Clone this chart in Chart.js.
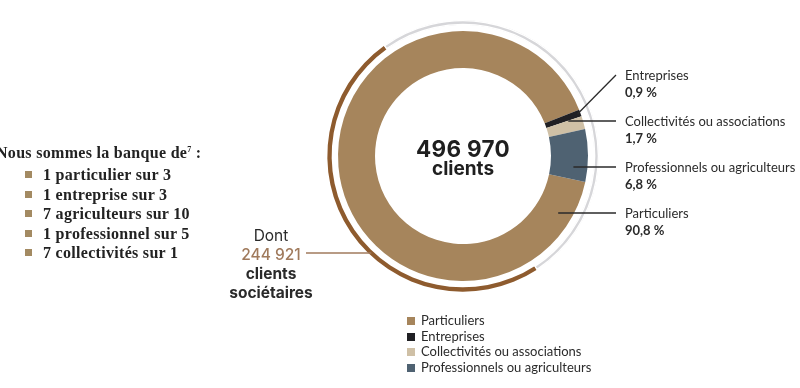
<!DOCTYPE html>
<html lang="fr">
<head>
<meta charset="utf-8">
<script src="https://cdn.jsdelivr.net/npm/chart.js@4.4.1/dist/chart.umd.min.js"></script>
<style>
    html, body { margin: 0; padding: 0; background: #fff; }
    #wrap { position: relative; width: 800px; height: 388px; overflow: hidden; font-family: Lato, sans-serif; color: #2b2b2b; }
    #chart { position: absolute; left: 0; top: 0; }
    .total { position: absolute; left: 363px; width: 200px; text-align: center; font-family: Inter, sans-serif; font-weight: 700; color: #1f1f1f; }
    .total .num { position: absolute; top: 136px; width: 100%; font-size: 22.5px; line-height: 26px; letter-spacing: 0.3px; }
    .total .unit { position: absolute; top: 157px; width: 100%; font-size: 19px; line-height: 24px; }
    .members { position: absolute; left: 211px; top: 226px; width: 120px; text-align: center; font-family: Inter, sans-serif; font-size: 15.5px; line-height: 19px; color: #2a2a2a; }
    .members .count { color: #a07a5c; font-weight: 500; }
    .members b { font-weight: 700; }
    .bank { position: absolute; left: -4px; top: 140px; font-family: 'Liberation Serif', serif; font-weight: 700; font-size: 16px; letter-spacing: 0.3px; color: #222; }
    .bank .title { line-height: 20px; }
    .bank ul { list-style: none; margin: 2px 0 0 0; padding: 0; }
    .bank li { position: relative; padding-left: 47px; line-height: 19.5px; }
    .bank li::before { content: ''; position: absolute; left: 29px; top: 6px; width: 7px; height: 7px; background: #a38a62; }
    .lbl { position: absolute; left: 625px; font-size: 13px; line-height: 17px; color: #2b2b2b; }
    .lbl b { font-weight: 700; }
    .legend { position: absolute; left: 407px; top: 313px; font-size: 13px; line-height: 15.7px; color: #2b2b2b; }
    .legend div { position: relative; padding-left: 14px; white-space: nowrap; }
    .legend span { position: absolute; left: 0; top: 4px; width: 8px; height: 8px; }
</style>
</head>
<body>
<div id="wrap">
    <canvas id="chart" width="800" height="388"></canvas>
    <div class="total"><div class="num" id="totalNum"></div><div class="unit">clients</div></div>
    <div class="members">Dont<br><span class="count" id="memberNum"></span><br><b>clients</b><br><b>sociétaires</b></div>
    <div class="bank"><div class="title">Nous sommes la banque de<sup style="font-size:8px">7</sup> :</div><ul id="bankList"></ul></div>
    <div id="labels"></div>
    <div class="legend" id="legend"></div>
</div>
<script>
// Répartition des clients
const categories = ['Particuliers', 'Entreprises', 'Collectivités ou associations', 'Professionnels ou agriculteurs'];
const shares = [90.8, 0.9, 1.7, 6.8];
const shareLabels = ['90,8 %', '0,9 %', '1,7 %', '6,8 %'];
const colors = ['#a6855c', '#202024', '#cfc0a6', '#4f6272'];

const totalClients = 496970;
const memberClients = 244921;
const memberColors = ['#8e5b2e', '#d6d6d9'];

const bankOf = [
    '1 particulier sur 3',
    '1 entreprise sur 3',
    '7 agriculteurs sur 10',
    '1 professionnel sur 5',
    '7 collectivités sur 1',
];

// ordre des étiquettes à droite, de haut en bas
const labelOrder = [1, 2, 3, 0];
const LABEL_X = 625;
const LABEL_TOP = 75;
const LABEL_STEP = 46;
const MEMBER_LINE_Y = 253;

const fmt = (n) => String(n).replace(/\B(?=(\d{3})+(?!\d))/g, ' ');

document.getElementById('totalNum').textContent = fmt(totalClients);
document.getElementById('memberNum').textContent = fmt(memberClients);

document.getElementById('bankList').innerHTML = bankOf.map((t) => `<li>${t}</li>`).join('');

document.getElementById('labels').innerHTML = labelOrder.map((idx, k) => (
    `<div class="lbl" style="top:${LABEL_TOP + k * LABEL_STEP - 8.5}px">${categories[idx]}<br><b>${shareLabels[idx]}</b></div>`
)).join('');

document.getElementById('legend').innerHTML = categories.map((c, i) => (
    `<div><span style="background:${colors[i]}"></span>${c}</div>`
)).join('');

const leaderLines = {
    id: 'leaderLines',
    afterDatasetsDraw(chart) {
        const ctx = chart.ctx;
        const main = chart.getDatasetMeta(2).data;
        const ring = chart.getDatasetMeta(0).data;
        const cx = main[0].x;
        const cy = main[0].y;

        ctx.save();
        ctx.lineWidth = 1.3;
        ctx.strokeStyle = '#2a2a2a';

        labelOrder.forEach((idx, k) => {
            const y = LABEL_TOP + k * LABEL_STEP;
            const arc = main[idx];
            let sx;
            let sy;

            if (k === 0) {
                const a = (arc.startAngle + arc.endAngle) / 2;
                sx = cx + Math.cos(a) * (arc.outerRadius - 3);
                sy = cy + Math.sin(a) * (arc.outerRadius - 3);
            } else {
                const r = arc.innerRadius + (arc.outerRadius - arc.innerRadius) * 0.62;
                sx = cx + Math.sqrt(r * r - (y - cy) * (y - cy));
                sy = y;
            }

            ctx.beginPath();
            ctx.moveTo(sx, sy);
            ctx.lineTo(LABEL_X - 9, y);
            ctx.stroke();
        });

        // trait vers l'anneau des sociétaires
        const r0 = (ring[0].outerRadius + ring[0].innerRadius) / 2;
        const dy = MEMBER_LINE_Y - cy;
        ctx.strokeStyle = '#a07a5c';
        ctx.lineWidth = 1.3;
        ctx.beginPath();
        ctx.moveTo(306, MEMBER_LINE_Y);
        ctx.lineTo(cx - Math.sqrt(r0 * r0 - dy * dy), MEMBER_LINE_Y);
        ctx.stroke();
        ctx.restore();
    },
};

new Chart(document.getElementById('chart'), {
    type: 'doughnut',
    data: {
        labels: categories,
        datasets: [
            {
                label: 'Sociétaires',
                data: [memberClients, totalClients - memberClients],
                backgroundColor: memberColors,
                borderWidth: [0, 1],
                borderColor: '#fff',
                borderAlign: 'inner',
                rotation: 147,
                weight: 5,
            },
            {
                label: 'spacer',
                data: [1],
                backgroundColor: 'rgba(0,0,0,0)',
                borderWidth: 0,
                weight: 6,
            },
            {
                label: 'Clients',
                data: shares,
                backgroundColor: colors,
                borderWidth: 0,
                rotation: 102,
                weight: 37,
            },
        ],
    },
    options: {
        responsive: false,
        animation: false,
        events: [],
        cutout: 88,
        layout: {
            padding: { left: 327, top: 20, right: 201, bottom: 96 },
        },
        plugins: {
            legend: { display: false },
            tooltip: { enabled: false },
        },
    },
    plugins: [leaderLines],
});
</script>
</body>
</html>
